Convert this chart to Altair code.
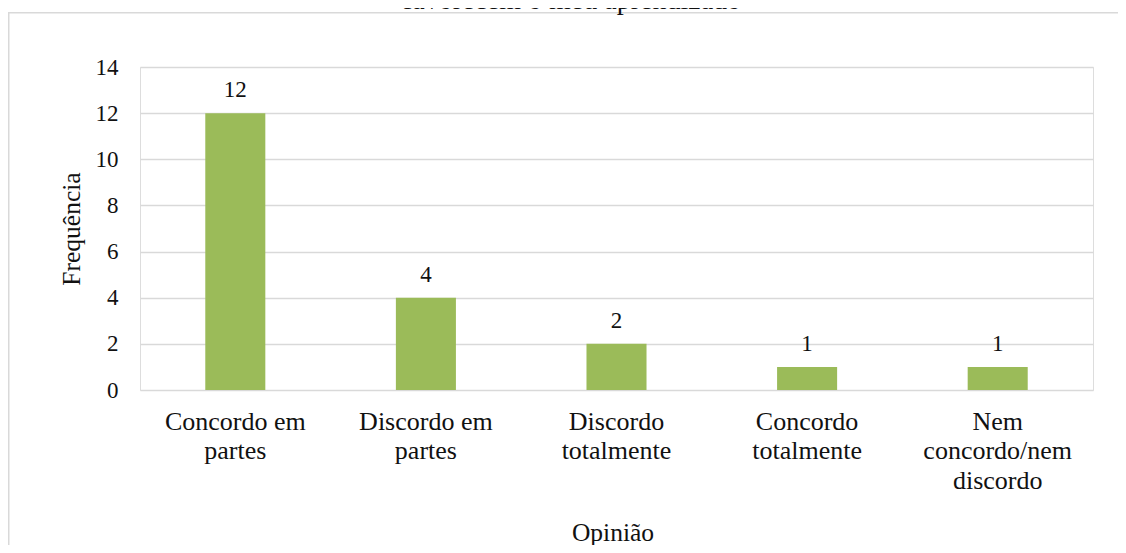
import altair as alt
import pandas as pd

categories = ["Concordo em\npartes", "Discordo em\npartes", "Discordo\ntotalmente",
              "Concordo\ntotalmente", "Nem\nconcordo/nem\ndiscordo"]
frequencies = [12, 4, 2, 1, 1]
y_ticks = [0, 2, 4, 6, 8, 10, 12, 14]
title_text = "favorecem o meu aprendizado"

FONT = "Liberation Serif"
W, H = 953, 323

df = pd.DataFrame({"cat": categories, "freq": frequencies})

x_enc = alt.X("cat:N", sort=categories,
              scale=alt.Scale(paddingInner=0.685, paddingOuter=0.3425),
              axis=alt.Axis(title="Opinião", labelAngle=0, labelExpr="split(datum.label, '\\n')",
                            labelLineHeight=29.5, labelBaseline="alphabetic", labelPadding=39,
                            labelFontSize=26, labelFont=FONT, labelColor="#111111",
                            ticks=False, domain=False, grid=False,
                            titleFont=FONT, titleFontSize=25.5, titleFontWeight="normal",
                            titleColor="#111111", titleX=W / 2 - 4, titleY=150,
                            titleBaseline="alphabetic", titleAlign="center"))
y_enc = alt.Y("freq:Q", scale=alt.Scale(domain=[0, 14], nice=False),
              axis=alt.Axis(title="Frequência", values=y_ticks, labelFontSize=23, labelFont=FONT,
                            labelColor="#111111", labelPadding=22, ticks=False, domain=False,
                            grid=True, gridColor="#d9d9d9", gridWidth=1.3,
                            titleFont=FONT, titleFontSize=25.5, titleFontWeight="normal",
                            titleColor="#111111", titleAngle=270, titleX=-61, titleY=H / 2,
                            titleBaseline="alphabetic", titleAlign="center"))

bars = alt.Chart(df).mark_bar(color="#9BBB59").encode(x=x_enc, y=y_enc)
labels = alt.Chart(df).mark_text(font=FONT, fontSize=23, color="#111111",
                                 baseline="alphabetic", dy=-16).encode(
    x=alt.X("cat:N", sort=categories), y="freq:Q", text="freq:Q")

one = alt.Data(values=[{"a": 1}])
border = alt.Chart(one).mark_rect(fill=None, stroke="#d9d9d9", strokeWidth=1.5).encode(
    x=alt.value(-131.25), x2=alt.value(1000), y=alt.value(-54.25), y2=alt.value(520))
title = alt.Chart(one).mark_text(font=FONT, fontSize=28, color="#111111",
                                 baseline="alphabetic", align="center").encode(
    x=alt.value(432), y=alt.value(-58), text=alt.value(title_text))

chart = alt.layer(border, bars, labels, title).properties(
    width=W, height=H,
    autosize=alt.AutoSizeParams(type="none"),
    padding={"left": 132, "top": 59, "right": 25, "bottom": 155},
).configure_view(stroke=None).configure(background="white", font=FONT)

chart.save("out.html", embed_options={"renderer": "svg", "actions": False})
